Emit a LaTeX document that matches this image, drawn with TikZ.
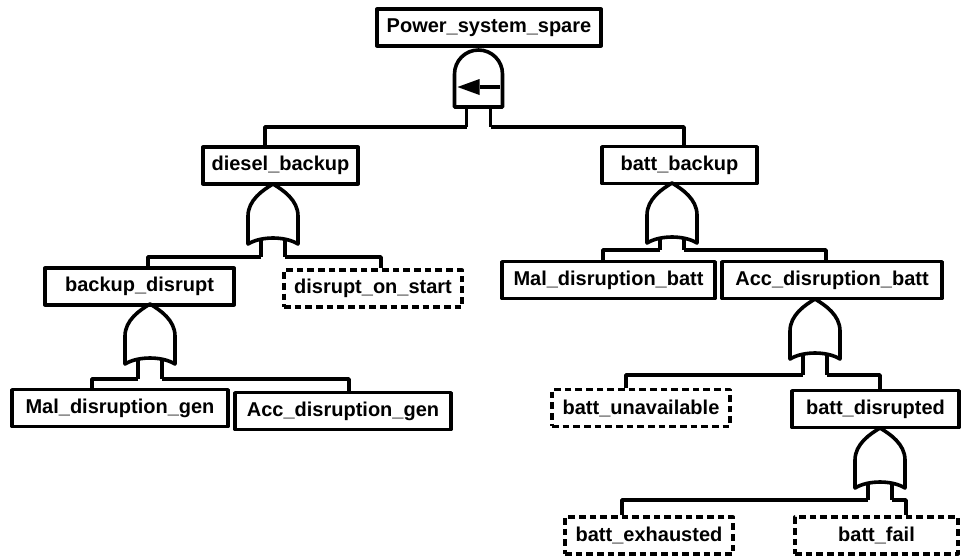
\documentclass[tikz,border=0pt]{standalone}
\usepackage{fontspec}
\setmainfont{Liberation Sans}
\usepackage{tikz}
\usetikzlibrary{positioning}
\usetikzlibrary{calc}
\tikzset{
ev/.style={
  draw,
  rectangle,
  inner sep=0pt,
  minimum height=27.5pt,
  font=\bfseries\fontsize{15}{18}\selectfont
  },
be/.style={
  ev,
  dash pattern=on 5pt off 3pt
  },
wd/.style={minimum width=0.75pt*#1},
pics/orgate/.style={code={
  \draw (0,0) .. controls (-10,6) and (-25,16) .. (-25,32) -- (-25,60)
    .. controls (-12,52) and (12,52) .. (25,60) -- (25,32)
    .. controls (25,16) and (10,6) .. (0,0) -- cycle;
  \draw (-12,54) -- (-12,#1) coordinate (-l);
  \draw (12,54) -- (12,#1) coordinate (-r);
  }},
pics/sparegate/.style={code={
  \draw (-24,57) -- (-24,24) arc[start angle=180,end angle=360,radius=24] -- (24,57) -- cycle;
  \draw (1,37) -- (21,37);
  \fill (-21,37) -- (1,29) -- (1,45) -- cycle;
  \draw (-12,57) -- (-12,77) coordinate (-l);
  \draw (12,57) -- (12,77) coordinate (-r);
  }}
}
\begin{document}
\begin{tikzpicture}[x=0.75pt,y=-0.75pt,line width=2.7pt,line join=round]
            \useasboundingbox (0,0) rectangle (962,558);
            \node[ev,wd=224] (pss)  at (489,27.5)   {Power\_system\_spare};
            \node[ev,wd=155] (dsl)  at (280.5,165.5) {diesel\_backup};
            \node[ev,wd=155] (btb)  at (679.5,165)   {batt\_backup};
            \node[ev,wd=189] (bkd)  at (139.5,286.5) {backup\_disrupt};
            \node[be,wd=178] (dos)  at (373,288.5)   {disrupt\_on\_start};
            \node[ev,wd=216] (mdg)  at (120,408)     {Mal\_disruption\_gen};
            \node[ev,wd=216] (adg)  at (343,411)     {Acc\_disruption\_gen};
            \node[ev,wd=213] (mdb)  at (608.5,280)   {Mal\_disruption\_batt};
            \node[ev,wd=220] (adb)  at (832,280)     {Acc\_disruption\_batt};
            \node[be,wd=178] (bun)  at (641,408)     {batt\_unavailable};
            \node[ev,wd=167] (bds)  at (875.5,409)   {batt\_disrupted};
            \node[be,wd=168] (bex)  at (649,535.5)   {batt\_exhausted};
            \node[be,wd=163] (bfl)  at (876.5,535.5) {batt\_fail};
            % gates
            \pic (sp) at (478.5,50) {sparegate};
            \pic (g1) at (273,184)  {orgate=73};
            \pic (g2) at (150,304)  {orgate=75};
            \pic (g3) at (672,183)  {orgate=67};
            \pic (g4) at (815,299)  {orgate=76};
            \pic (g5) at (880,428)  {orgate=72};
            % connectors
            \draw (sp-l) -| ($(dsl.north)+(-15.5,0)$);
            \draw (sp-r) -| ($(btb.north)+(4.5,0)$);
            \draw (g1-l) -| ($(bkd.north)+(8.5,0)$);
            \draw (g1-r) -| ($(dos.north)+(8,0)$);
            \draw (g2-l) -| ($(mdg.north)+(-28,0)$);
            \draw (g2-r) -| ($(adg.north)+(6,0)$);
            \draw (g3-l) -| ($(mdb.north)+(-5.5,0)$);
            \draw (g3-r) -| ($(adb.north)+(-6,0)$);
            \draw (g4-l) -| ($(bun.north)+(-15,0)$);
            \draw (g4-r) -| ($(bds.north)+(4.5,0)$);
            \draw (g5-l) -| ($(bex.north)+(-27,0)$);
            \draw (g5-r) -| ($(bfl.north)+(29.5,0)$);
        \end{tikzpicture}
\end{document}
